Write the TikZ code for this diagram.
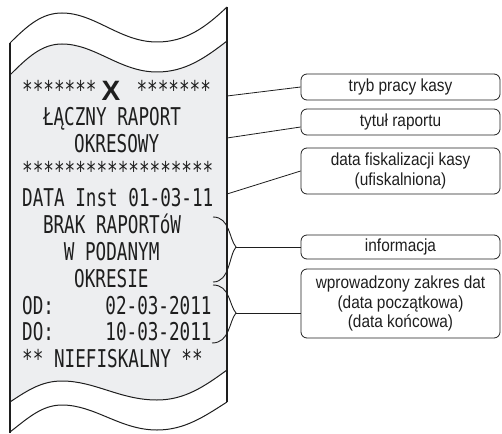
\documentclass[tikz,border=0pt]{standalone}
\usepackage{fontspec}
\setmainfont{Liberation Sans}
\newfontfamily\recfont[FakeStretch=0.72]{DejaVu Sans Mono}
\newfontfamily\boxfont[FakeStretch=0.88]{Liberation Sans}
\definecolor{paperfill}{RGB}{237,238,240}
\definecolor{inkc}{RGB}{30,30,30}
\begin{document}
\begin{tikzpicture}[x=1pt,y=-1pt,
  edge/.style={line width=1.8pt,draw=inkc},
  wave/.style={line width=1pt,draw=inkc},
  callout/.style={draw=inkc,rounded corners=6pt,line width=0.8pt,minimum width=199pt,
    inner sep=0pt,align=center,text=inkc,font=\boxfont\fontsize{17.5}{19.5}\selectfont},
  rec/.style={anchor=base west,inner sep=0pt,text=inkc,font=\recfont\fontsize{24.5}{24}\selectfont},
  conn/.style={line width=0.8pt,draw=inkc},
  bracec/.style={line width=0.9pt,draw=inkc}]
\useasboundingbox (0,0) rectangle (502,433);
% paper grey part
\fill[paperfill] (10,75) .. controls (28,57) and (42,44) .. (62,44) .. controls (95,44) and (120,72) .. (157,72) .. controls (185,72) and (205,58) .. (227,41)
  -- (227,370) .. controls (205,386) and (185,400) .. (157,400) .. controls (120,400) and (95,381) .. (62,381) .. controls (42,381) and (28,390) .. (10,402) -- cycle;
% waves
\draw[wave] (10,43) .. controls (28,25) and (42,13) .. (62,13) .. controls (95,13) and (120,42) .. (157,42) .. controls (185,42) and (205,28) .. (227,7);
\draw[wave] (10,75) .. controls (28,57) and (42,44) .. (62,44) .. controls (95,44) and (120,72) .. (157,72) .. controls (185,72) and (205,58) .. (227,41);
\draw[wave] (10,402) .. controls (28,390) and (42,381) .. (62,381) .. controls (95,381) and (120,400) .. (157,400) .. controls (185,400) and (205,386) .. (227,370);
\draw[wave] (10,432) .. controls (28,418) and (42,405) .. (62,405) .. controls (95,405) and (120,430) .. (157,430) .. controls (185,430) and (205,416) .. (227,402);
% edges
\draw[edge] (10,43) -- (10,433);
\draw[edge] (227,7) -- (227,402);
% receipt text
\node[rec] (l1a) at (22,98.8) {*******};
\node[inner sep=0pt,text=inkc,font=\fontsize{28}{28}\selectfont\bfseries] (l1x) at (111,90.5) {X};
\node[rec] (l1b) at (136.4,98.8) {*******};
\node[rec] (l2) at (42.8,125.7) {ŁĄCZNY RAPORT};
\node[rec] (l3) at (74,152.6) {OKRESOWY};
\node[rec] (l4) at (22,179.5) {******************};
\node[rec] (l5) at (22,206.4) {DATA Inst 01-03-11};
\node[rec] (l6) at (42.8,233.3) {BRAK RAPORTóW};
\node[rec] (l7) at (63.6,260.2) {W PODANYM};
\node[rec] (l8) at (74,287.1) {OKRESIE};
\node[rec] (l9a) at (22,314) {OD:};
\node[rec] (l9b) at (105.2,314) {02-03-2011};
\node[rec] (l10a) at (22,340.9) {DO:};
\node[rec] (l10b) at (105.2,340.9) {10-03-2011};
\node[rec] (l11) at (22,367.8) {** NIEFISKALNY **};
% braces
\draw[bracec] (213,217) .. controls (230,217) and (229,239) .. (236,247) .. controls (229,255) and (230,282) .. (213,282);
\draw[bracec] (213,285) .. controls (230,285) and (229,305) .. (236,313) .. controls (229,321) and (230,343) .. (212,343);
% anchor points
\coordinate (p1) at (227,96);
\coordinate (p2) at (227,138);
\coordinate (p3) at (227,194);
\coordinate (b1) at (236,247);
\coordinate (b2) at (236,313);
% callouts
\node[callout,minimum height=26pt] (box1) at (400.5,87) {tryb pracy kasy};
\node[callout,minimum height=26pt] (box2) at (400.5,122) {tytuł raportu};
\node[callout,minimum height=46pt] (box3) at (400.5,171) {data fiskalizacji kasy\\(ufiskalniona)};
\node[callout,minimum height=24pt] (box4) at (400.5,247) {informacja};
\node[callout,minimum height=69pt] (box5) at (400.5,303.5) {wprowadzony zakres dat\\(data początkowa)\\(data końcowa)};
% connectors
\draw[conn] (p1) -- (box1.west);
\draw[conn] (p2) -- ([yshift=-5pt]box2.west);
\draw[conn] (p3) -- (box3.west);
\draw[conn] (b1) -- (box4.west);
\draw[conn] (b2) -- ([yshift=-9.5pt]box5.west);
\end{tikzpicture}
\end{document}
